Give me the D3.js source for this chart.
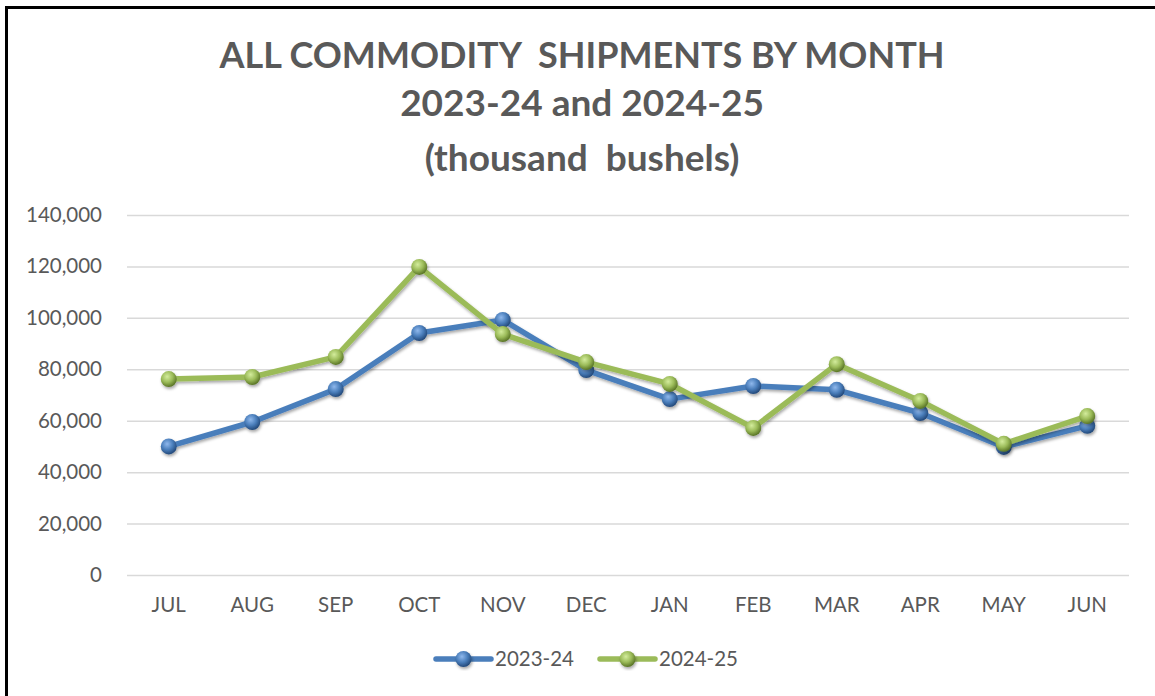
<!DOCTYPE html>
<html>
<head>
<meta charset="utf-8">
<script src="https://cdn.jsdelivr.net/npm/d3@7"></script>
<style>
  body { margin: 0; background: #fff; }
  text { font-family: Lato, "Open Sans", sans-serif; fill: #595959; }
</style>
</head>
<body>
<script>
// data (thousand bushels)
const months = ["JUL", "AUG", "SEP", "OCT", "NOV", "DEC", "JAN", "FEB", "MAR", "APR", "MAY", "JUN"];
const ship2324 = [50000, 59500, 72300, 94100, 99200, 79700, 68400, 73500, 72000, 63000, 49800, 58000];
const ship2425 = [76200, 77000, 84800, 119800, 93700, 82800, 74300, 57200, 82000, 67700, 51000, 61800];
const yTicks = [0, 20000, 40000, 60000, 80000, 100000, 120000, 140000];
const titleLines = ["ALL COMMODITY  SHIPMENTS BY MONTH", "2023-24 and 2024-25", "(thousand  bushels)"];

let width = 1155;
let height = 696;
let margin = { left: 127, right: 26, top: 215, bottom: 121 };
let labelSize = 20.5;

let series = [
  { name: "2023-24", values: ship2324, color: "#4a7ebb", light: "#8fb8ec", dark: "#23497a" },
  { name: "2024-25", values: ship2425, color: "#9bbb59", light: "#d3ec9c", dark: "#5a7526" }
];

let svg = d3.select("body").append("svg")
  .attr("width", width)
  .attr("height", height);

let defs = svg.append("defs");

// soft shadow under lines and markers
let shadow = defs.append("filter").attr("id", "shadow")
  .attr("x", "-20%").attr("y", "-20%").attr("width", "140%").attr("height", "140%");
shadow.append("feDropShadow")
  .attr("dx", 1).attr("dy", 2).attr("stdDeviation", 1.6)
  .attr("flood-color", "#000").attr("flood-opacity", 0.35);

series.forEach((s, i) => {
  let g = defs.append("radialGradient").attr("id", "ball" + i)
    .attr("cx", "40%").attr("cy", "35%").attr("r", "65%");
  g.append("stop").attr("offset", "0%").attr("stop-color", s.light);
  g.append("stop").attr("offset", "55%").attr("stop-color", s.color);
  g.append("stop").attr("offset", "100%").attr("stop-color", s.dark);
});

// border
svg.append("rect")
  .attr("x", 6.5).attr("y", 7.5)
  .attr("width", width).attr("height", height)
  .attr("fill", "none").attr("stroke", "#000").attr("stroke-width", 3);

// title
svg.append("g").selectAll("text")
  .data(titleLines)
  .join("text")
  .attr("x", 582)
  .attr("y", (d, i) => [68, 116, 171][i])
  .attr("text-anchor", "middle")
  .attr("font-size", (d, i) => i == 0 ? 36 : 37)
  .attr("font-weight", "bold")
  .style("white-space", "pre")
  .text(d => d);

let x = d3.scaleBand()
  .domain(months)
  .range([margin.left, width - margin.right]);

let y = d3.scaleLinear()
  .domain([0, 140000])
  .range([height - margin.bottom, margin.top]);

// gridlines + y labels
let yAxis = svg.append("g")
  .attr("transform", "translate(" + margin.left + ",0)")
  .call(d3.axisLeft(y).tickValues(yTicks)
    .tickSize(-(width - margin.left - margin.right))
    .tickPadding(25)
    .tickFormat(d3.format(",")));
yAxis.select(".domain").remove();
yAxis.selectAll(".tick line").attr("stroke", "#d9d9d9").attr("stroke-width", 1.5);
yAxis.selectAll(".tick text").attr("font-size", labelSize).attr("fill", "#595959")
  .style("font-family", "Lato, 'Open Sans', sans-serif");

// x labels
let xAxis = svg.append("g")
  .attr("transform", "translate(0," + (height - margin.bottom) + ")")
  .call(d3.axisBottom(x).tickSize(0).tickPadding(22));
xAxis.select(".domain").remove();
xAxis.selectAll(".tick text").attr("font-size", labelSize).attr("fill", "#595959")
  .style("font-family", "Lato, 'Open Sans', sans-serif");

let line = d3.line()
  .x((d, i) => x(months[i]) + x.bandwidth() / 2)
  .y(d => y(d));

series.forEach((s, i) => {
  let g = svg.append("g").attr("filter", "url(#shadow)");
  g.append("path")
    .attr("d", line(s.values))
    .attr("fill", "none")
    .attr("stroke", s.color)
    .attr("stroke-width", 5.5)
    .attr("stroke-linejoin", "round");
  g.selectAll("circle")
    .data(s.values)
    .join("circle")
    .attr("cx", (d, j) => x(months[j]) + x.bandwidth() / 2)
    .attr("cy", d => y(d))
    .attr("r", 8)
    .attr("fill", "url(#ball" + i + ")");
});

// legend
let legend = svg.append("g").selectAll("g")
  .data(series)
  .join("g")
  .attr("transform", (d, i) => "translate(" + [436, 600][i] + ",659)");
legend.append("line")
  .attr("x1", 0).attr("x2", 55)
  .attr("stroke", d => d.color)
  .attr("stroke-width", 5.5)
  .attr("stroke-linecap", "round");
legend.append("circle")
  .attr("cx", 27.5).attr("r", 8)
  .attr("fill", (d, i) => "url(#ball" + i + ")")
  .attr("filter", "url(#shadow)");
legend.append("text")
  .attr("x", 59).attr("dy", "0.35em")
  .attr("font-size", labelSize)
  .text(d => d.name);
</script>
</body>
</html>
